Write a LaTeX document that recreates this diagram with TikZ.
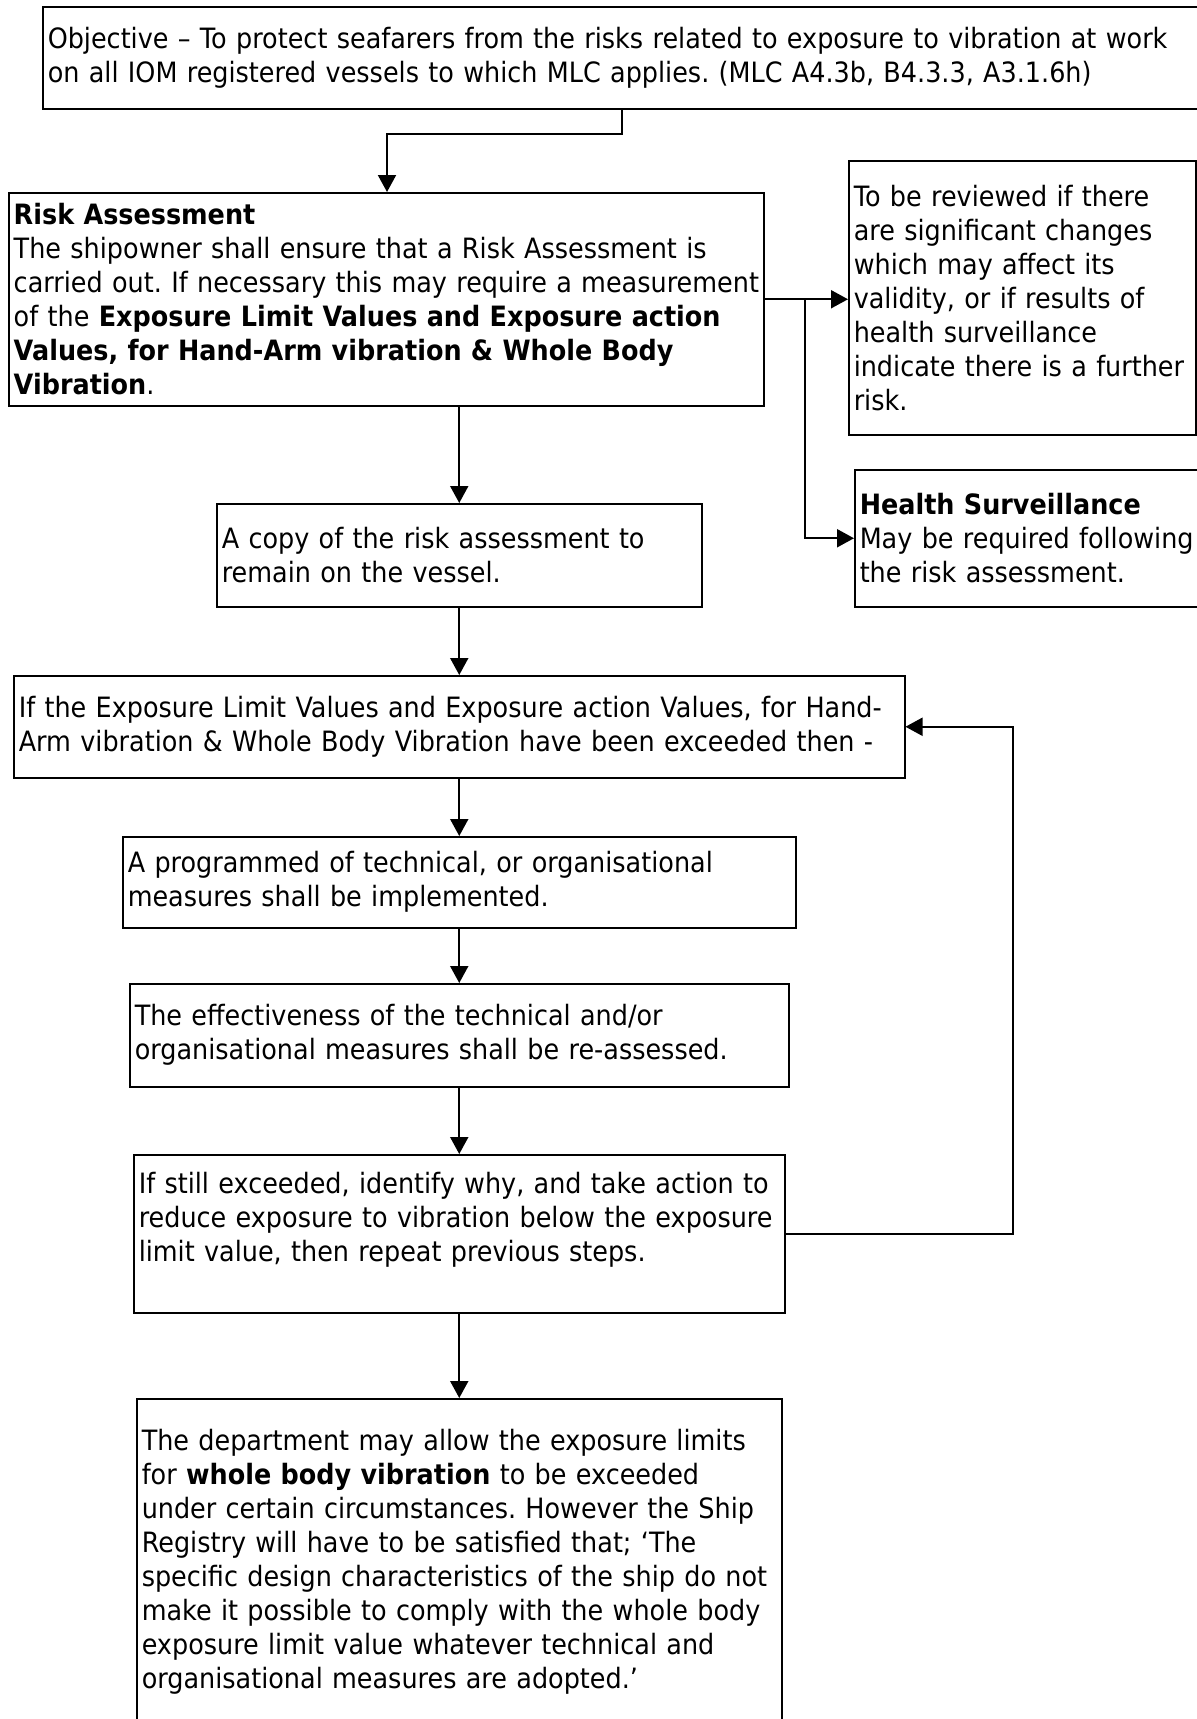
\documentclass[tikz,border=0pt]{standalone}
\usepackage{fontspec}
\setmainfont{DejaVu Sans}[FakeStretch=0.91]
\usetikzlibrary{arrows.meta,positioning}
\frenchspacing
\hyphenpenalty=10000
\hfuzz=4pt
\tikzset{flowbox/.style={
    % The shape:
    rectangle,
    anchor=north west,
    % The border:
    line width=0.75pt,
    draw=black,
    % The text:
    inner xsep=2.5pt,
    inner ysep=0pt,
    align=left,
    font=\fontsize{14}{17}\selectfont
    },
    flowline/.style={
    line width=1pt,
    -{Triangle[width=9pt,length=8.5pt]},
    },
}

\begin{document}
\begin{tikzpicture}[x=0.5pt,y=-0.5pt]
    \useasboundingbox (0,0) rectangle (1196,1719);
    \node (objective) [flowbox,text width=575pt,minimum height=51pt] at (42,6)
        {Objective – To protect seafarers from the risks related to exposure to vibration at work\\
         on all IOM registered vessels to which MLC applies. (MLC A4.3b, B4.3.3, A3.1.6h)};
    \node (risk)      [flowbox,text width=372.5pt,minimum height=106.5pt] at (8,192)
        {\textbf{Risk Assessment}\\
         The shipowner shall ensure that a Risk Assessment is\\
         \mbox{carried out. If necessary this may require a measurement}\\
         of the \textbf{Exposure Limit Values and Exposure action}\\
         \textbf{Values, for Hand-Arm vibration \& Whole Body}\\
         \textbf{Vibration}.};
    \node (review)    [flowbox,text width=168.5pt,minimum height=137pt] at (848,160)
        {To be reviewed if there\\are significant changes\\which may affect its\\
         validity, or if results of\\health surveillance\\indicate there is a further\\risk.};
    \node (health)    [flowbox,text width=169pt,minimum height=68.5pt] at (854,469)
        {\textbf{Health Surveillance}\\May be required following\\the risk assessment.};
    \node (copy)      [flowbox,text width=237.5pt,minimum height=51.5pt] at (216,503)
        {A copy of the risk assessment to\\remain on the vessel.};
    \node (exceeded)  [flowbox,text width=440.5pt,minimum height=51pt] at (13,675)
        {If the Exposure Limit Values and Exposure action Values, for Hand-\\
         Arm vibration \& Whole Body Vibration have been exceeded then -};
    \node (programme) [flowbox,text width=331.5pt,minimum height=45.5pt] at (122,836)
        {A programmed of technical, or organisational\\measures shall be implemented.};
    \node (reassess)  [flowbox,text width=324.5pt,minimum height=51.5pt] at (129,983)
        {The effectiveness of the technical and/or\\organisational measures shall be re-assessed.};
    \node (still)     [flowbox,text width=320.5pt,minimum height=79pt] at (133,1154)
        {If still exceeded, identify why, and take action to\\
         reduce exposure to vibration below the exposure\\
         limit value, then repeat previous steps.\\\mbox{}};
    \node (department)[flowbox,text width=317.5pt,minimum height=163pt] at (136,1398)
        {The department may allow the exposure limits\\
         for \textbf{whole body vibration} to be exceeded\\
         under certain circumstances. However the Ship\\
         Registry will have to be satisfied that; ‘The\\
         specific design characteristics of the ship do not\\
         make it possible to comply with the whole body\\
         exposure limit value whatever technical and\\
         organisational measures are adopted.’};

    % bends of the connectors
    \coordinate (drop)   at (622,134);
    \coordinate (turn)   at (387,134);
    \coordinate (branch) at (805,0);
    \coordinate (loop)   at (1013,0);

    \draw [flowline] (objective.south -| drop) -- (drop) -- (turn) -- (risk.north -| turn);
    \draw [flowline] (risk.east) -- (risk.east -| review.west);
    \draw [flowline] (risk.east -| branch) |- (health.west);
    \draw [flowline] (risk.south -| copy.north) -- (copy.north);
    \draw [flowline] (copy.south) -- (exceeded.north);
    \draw [flowline] (exceeded.south) -- (programme.north);
    \draw [flowline] (programme.south) -- (reassess.north);
    \draw [flowline] (reassess.south) -- (still.north);
    \draw [flowline] (still.south) -- (department.north);
    \draw [flowline] (still.east) -- (still.east -| loop) -- (exceeded.east -| loop) -- (exceeded.east);
\end{tikzpicture}
\end{document}
